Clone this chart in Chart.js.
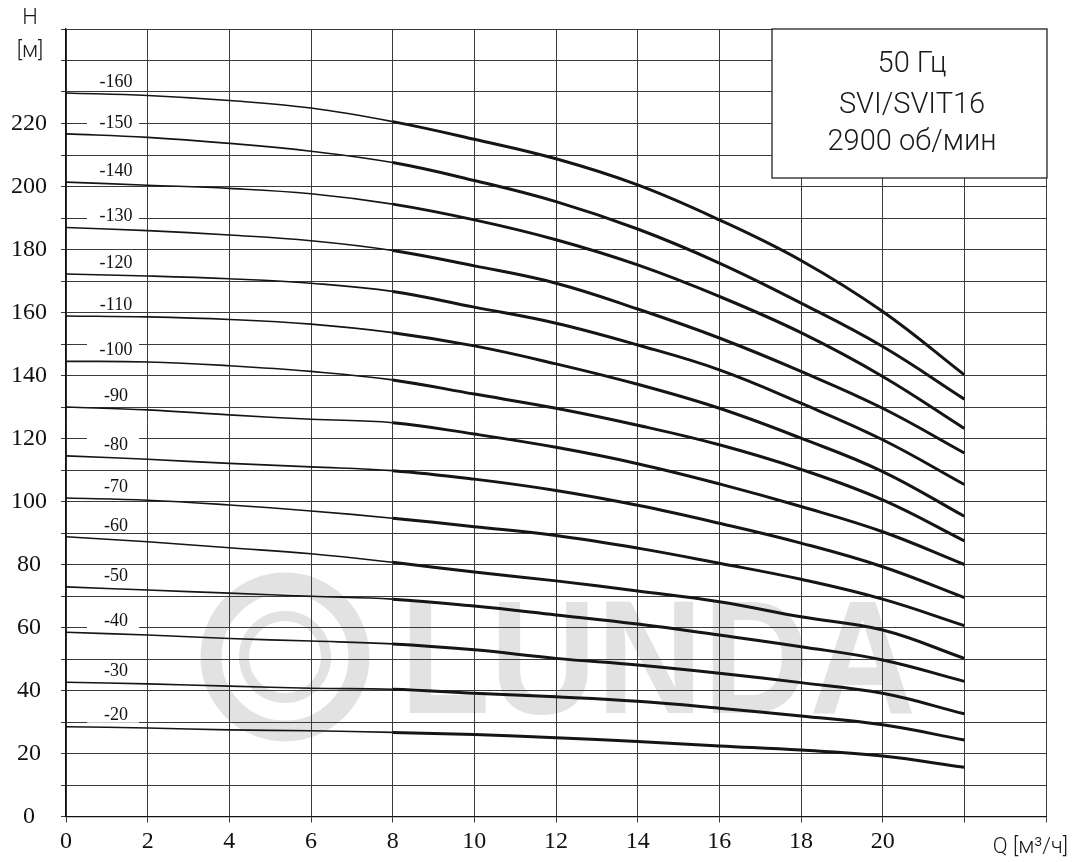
<!DOCTYPE html>
<html>
<head>
<meta charset="utf-8">
<script src="https://cdn.jsdelivr.net/npm/chart.js@4.4.1/dist/chart.umd.min.js"></script>
<style>
  html, body { margin: 0; padding: 0; background: #fff; }
  #wrap { width: 1073px; height: 862px; position: relative; }
</style>
</head>
<body>
<div id="wrap"><canvas id="pumpChart"></canvas></div>
<script>
"use strict";
// Q, m3/h
const flowQ = [0, 2, 4, 6, 8, 10, 12, 14, 16, 18, 20, 22];
// H, m, one array per pump size
const h160 = [229.7, 228.9, 227.3, 224.9, 220.6, 215.0, 208.8, 200.5, 189.4, 176.5, 160.3, 140.2];
const h150 = [216.7, 215.6, 213.7, 211.2, 207.6, 201.9, 195.2, 186.5, 175.7, 163.0, 149.2, 132.5];
const h140 = [201.4, 200.4, 199.4, 197.7, 194.4, 189.4, 183.1, 175.1, 165.1, 153.6, 139.7, 123.2];
const h130 = [187.0, 186.0, 184.6, 182.8, 179.7, 174.8, 169.3, 161.1, 151.9, 141.3, 129.6, 115.4];
const h120 = [172.2, 171.6, 170.7, 169.3, 166.7, 161.7, 156.6, 149.7, 141.8, 131.2, 119.6, 105.4];
const h110 = [158.9, 158.6, 157.8, 156.3, 153.6, 149.4, 143.7, 137.2, 129.6, 120.1, 109.5, 95.3];
const h100 = [144.5, 144.3, 143.1, 141.3, 138.6, 134.1, 129.6, 124.2, 118.0, 110.2, 100.5, 87.5];
const h90 = [130.0, 129.1, 127.5, 126.1, 125.0, 121.4, 117.2, 112.0, 105.6, 98.4, 90.4, 80.0];
const h80 = [114.5, 113.4, 112.1, 111.0, 109.8, 107.1, 103.5, 98.8, 93.1, 86.8, 79.3, 69.5];
const h70 = [101.1, 100.4, 98.9, 97.0, 94.7, 92.0, 89.2, 85.2, 80.4, 75.3, 69.0, 60.6];
const h60 = [88.8, 87.2, 85.3, 83.4, 80.7, 77.6, 74.8, 71.6, 68.2, 63.4, 59.2, 50.2];
const h50 = [72.9, 71.9, 70.9, 69.9, 69.0, 66.8, 64.0, 61.1, 57.6, 53.9, 49.7, 42.9];
const h40 = [58.5, 57.6, 56.5, 55.7, 54.8, 52.9, 50.2, 48.1, 45.5, 42.5, 39.1, 32.6];
const h30 = [42.6, 42.1, 41.4, 40.7, 40.4, 39.1, 38.0, 36.6, 34.4, 31.9, 29.1, 24.3];
const h20 = [28.5, 28.1, 27.5, 27.2, 26.7, 26.0, 25.0, 23.8, 22.4, 21.1, 19.2, 15.6];

const curveNames = ["-20", "-30", "-40", "-50", "-60", "-70", "-80", "-90", "-100", "-110", "-120", "-130", "-140", "-150", "-160"];
const curveHeads = [h20, h30, h40, h50, h60, h70, h80, h90, h100, h110, h120, h130, h140, h150, h160];

const xLabelValues = [0, 2, 4, 6, 8, 10, 12, 14, 16, 18, 20];
const yLabelValues = [0, 20, 40, 60, 80, 100, 120, 140, 160, 180, 200, 220];
const infoLines = ["50 Гц", "SVI/SVIT16", "2900 об/мин"];

const serif = "'Liberation Serif', 'Times New Roman', serif";
const sans = "'Liberation Sans', Arial, sans-serif";

const datasets = curveHeads.map((heads, i) => ({
    label: curveNames[i],
    data: flowQ.map((q, j) => ({ x: q, y: heads[j] })),
    borderColor: "#151515",
    borderWidth: 1.6,
    pointRadius: 0,
    tension: 0.4,
    segment: {
        // thin line outside the working range, thick from Q = 8
        borderWidth: (ctx) => (ctx.p0.parsed.x >= 8 ? 3 : 1.6),
    },
}));

const decorPlugin = {
    id: "decor",
    beforeDraw(chart) {
        // faint watermark behind the grid
        const ctx = chart.ctx;
        ctx.save();
        ctx.strokeStyle = "#e2e2e2";
        ctx.lineWidth = 21;
        ctx.beginPath();
        ctx.arc(285, 657, 74, 0, Math.PI * 2);
        ctx.stroke();
        ctx.lineWidth = 10;
        ctx.beginPath();
        ctx.arc(285, 657, 41, 0, Math.PI * 2);
        ctx.stroke();
        ctx.fillStyle = "#e2e2e2";
        ctx.font = "bold 162px " + sans;
        ctx.translate(400, 713);
        ctx.scale(0.91, 1);
        ctx.fillText("LUNDA", 0, 0);
        ctx.restore();
    },
    beforeDatasetsDraw(chart) {
        const ctx = chart.ctx;
        const xs = chart.scales.x;
        const ys = chart.scales.y;
        const x0 = xs.getPixelForValue(0);
        ctx.save();
        ctx.font = "18px " + serif;
        ctx.textAlign = "center";
        ctx.textBaseline = "middle";
        curveHeads.forEach((heads, i) => {
            const yy = ys.getPixelForValue(heads[0]) - 11;
            ctx.fillStyle = "#fff";
            ctx.fillRect(x0 + 21, yy - 8, 52, 15);
            ctx.fillStyle = "#111";
            ctx.fillText(curveNames[i], x0 + 50, yy);
        });
        ctx.restore();
    },
    afterDraw(chart) {
        const ctx = chart.ctx;
        ctx.save();
        // info box
        ctx.fillStyle = "#fff";
        ctx.fillRect(772, 29, 275, 149);
        ctx.strokeStyle = "#222";
        ctx.lineWidth = 1.3;
        ctx.strokeRect(772, 29, 275, 149);
        ctx.fillStyle = "#1a1a1a";
        ctx.font = "300 29px Roboto, " + sans;
        ctx.textAlign = "center";
        ctx.textBaseline = "middle";
        ctx.fillText(infoLines[0], 912, 65);
        ctx.fillText(infoLines[1], 912, 106);
        ctx.fillText(infoLines[2], 912, 143);
        // axis titles
        ctx.font = "300 22px Roboto, " + sans;
        ctx.fillText("H", 30, 18);
        ctx.fillText("[м]", 30, 51);
        ctx.textAlign = "right";
        ctx.fillText("Q [м³/ч]", 1068, 847);
        ctx.restore();
    },
};

new Chart(document.getElementById("pumpChart"), {
    type: "line",
    data: { datasets: datasets },
    options: {
        responsive: true,
        maintainAspectRatio: false,
        animation: false,
        layout: { padding: { top: 29, right: 27, left: 0, bottom: 0 } },
        plugins: { legend: { display: false }, tooltip: { enabled: false } },
        scales: {
            x: {
                type: "linear",
                min: 0,
                max: 24,
                ticks: {
                    stepSize: 2,
                    autoSkip: false,
                    maxRotation: 0,
                    padding: 5,
                    color: "#111",
                    font: { family: serif, size: 24 },
                    callback: (v) => (xLabelValues.includes(v) ? String(v) : ""),
                },
                grid: { color: "#3a3a3a", lineWidth: 1, tickLength: 6 },
                border: { color: "#111", width: 1.3 },
                afterFit(scale) { scale.height = 45.5; },
            },
            y: {
                type: "linear",
                min: 0,
                max: 250,
                ticks: {
                    stepSize: 10,
                    autoSkip: false,
                    padding: 14,
                    crossAlign: "center",
                    color: "#111",
                    font: { family: serif, size: 24 },
                    callback: (v) => (yLabelValues.includes(v) ? String(v) : ""),
                },
                grid: { color: "#3a3a3a", lineWidth: 1, tickLength: 5 },
                border: { color: "#111", width: 1.3 },
                afterFit(scale) { scale.width = 66; },
            },
        },
    },
    plugins: [decorPlugin],
});
</script>
</body>
</html>
